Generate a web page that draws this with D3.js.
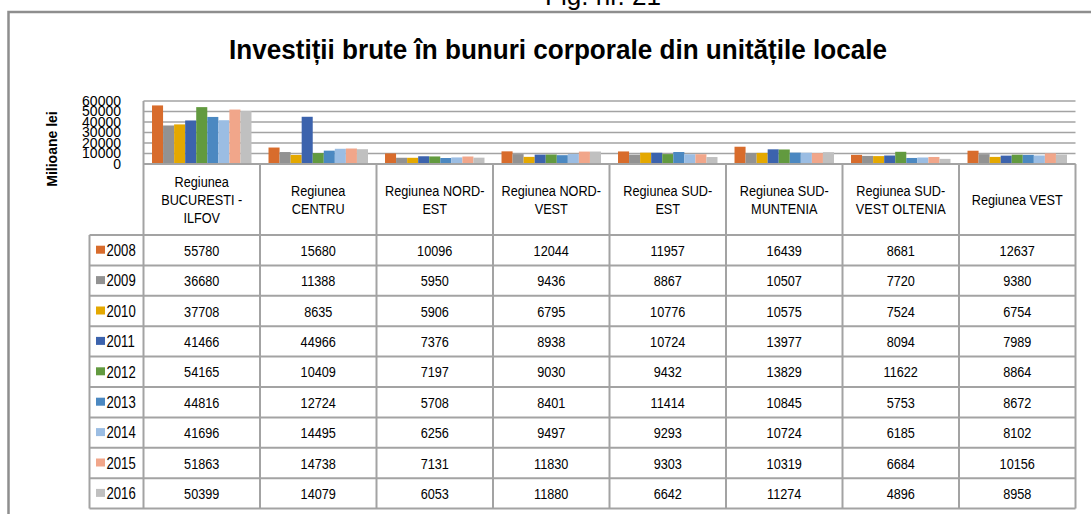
<!DOCTYPE html>
<html>
<head>
<meta charset="utf-8">
<script src="https://cdn.jsdelivr.net/npm/d3@7"></script>
<style>
  body { margin: 0; background: #fff; }
  svg { display: block; }
</style>
</head>
<body>
<div id="graph"></div>
<script>
// data
var regions = ["BUCURESTI - ILFOV", "CENTRU", "NORD-EST", "NORD-VEST", "SUD-EST", "SUD-MUNTENIA", "SUD-VEST OLTENIA", "VEST"];
var headLines = [
  ["Regiunea", "BUCURESTI -", "ILFOV"],
  ["Regiunea", "CENTRU"],
  ["Regiunea NORD-", "EST"],
  ["Regiunea NORD-", "VEST"],
  ["Regiunea SUD-", "EST"],
  ["Regiunea SUD-", "MUNTENIA"],
  ["Regiunea SUD-", "VEST OLTENIA"],
  ["Regiunea VEST"]
];
var years = ["2008", "2009", "2010", "2011", "2012", "2013", "2014", "2015", "2016"];
var y2008 = [55780, 15680, 10096, 12044, 11957, 16439, 8681, 12637];
var y2009 = [36680, 11388, 5950, 9436, 8867, 10507, 7720, 9380];
var y2010 = [37708, 8635, 5906, 6795, 10776, 10575, 7524, 6754];
var y2011 = [41466, 44966, 7376, 8938, 10724, 13977, 8094, 7989];
var y2012 = [54165, 10409, 7197, 9030, 9432, 13829, 11622, 8864];
var y2013 = [44816, 12724, 5708, 8401, 11414, 10845, 5753, 8672];
var y2014 = [41696, 14495, 6256, 9497, 9293, 10724, 6185, 8102];
var y2015 = [51863, 14738, 7131, 11830, 9303, 10319, 6684, 10156];
var y2016 = [50399, 14079, 6053, 11880, 6642, 11274, 4896, 8958];
var series = [y2008, y2009, y2010, y2011, y2012, y2013, y2014, y2015, y2016];
var yTicks = [0, 10000, 20000, 30000, 40000, 50000, 60000];
var colors = ["#d86c2c", "#929292", "#e4a800", "#3c63ad", "#629a3f", "#4b88c1", "#9bbde3", "#f1a68a", "#c0c0c0"];

var W = 1091, H = 514;
var plotL = 143.5, plotR = 1075.5, plotT = 101, plotB = 164;
var headB = 235, rowH = 30.4, legL = 89.5;
var font = "'Liberation Sans', Arial, sans-serif";
var squeeze = 0.82;   // the original text is condensed (Arial Narrow look)
var lineCol = "#a3a3a3";

var svg = d3.select("#graph")
  .append("svg")
    .attr("width", W)
    .attr("height", H);

// condensed text: a group moved to the anchor point, squeezed horizontally
function narrowText(parent, x, y, lines, size, anchor, lead) {
  var t = parent.append("g")
      .attr("transform", "translate(" + x + "," + y + ") scale(" + squeeze + ",1)")
    .append("text")
      .attr("text-anchor", anchor || "middle")
      .style("font-family", font)
      .style("font-size", size + "px")
      .attr("fill", "#000");
  t.selectAll("tspan")
    .data(lines)
    .enter()
    .append("tspan")
      .attr("x", 0)
      .attr("y", function(l, k) { return k * (lead || 0); })
      .text(function(l) { return l; });
  return t;
}

// outer frame (cropped at right and bottom)
svg.append("rect")
  .attr("x", 8.5).attr("y", 12)
  .attr("width", W + 20).attr("height", H + 20)
  .attr("fill", "none")
  .attr("stroke", "#8e8e8e")
  .attr("stroke-width", 2.5);

svg.append("text")
  .attr("x", 545).attr("y", 5)
  .attr("textLength", 116)
  .attr("lengthAdjust", "spacingAndGlyphs")
  .style("font-family", font)
  .style("font-size", "25px")
  .text("Fig. nr. 21");

svg.append("text")
  .attr("x", 229).attr("y", 58.5)
  .attr("textLength", 658)
  .attr("lengthAdjust", "spacingAndGlyphs")
  .style("font-family", font)
  .style("font-weight", "bold")
  .style("font-size", "27px")
  .text("Investiții brute în bunuri corporale din unitățile locale");

// scales
var x0 = d3.scaleBand().domain(regions).range([plotL, plotR]);
var x1 = d3.scaleBand().domain(years).range([0, x0.bandwidth()]).paddingOuter(0.77);
var y = d3.scaleLinear().domain([0, 60000]).range([plotB, plotT]);

// gridlines
svg.append("g")
  .selectAll("line")
  .data(yTicks)
  .enter()
  .append("line")
    .attr("x1", plotL).attr("x2", plotR)
    .attr("y1", function(d) { return y(d); })
    .attr("y2", function(d) { return y(d); })
    .attr("stroke", lineCol)
    .attr("stroke-width", 1.5);

// y axis labels
var yAxis = svg.append("g")
  .attr("transform", "translate(121,0)")
  .call(d3.axisLeft(y).tickValues(yTicks).tickSize(0).tickPadding(0).tickFormat(d3.format("d")));
yAxis.select(".domain").remove();
yAxis.selectAll("text")
  .style("font-family", font)
  .style("font-size", "14px")
  .attr("fill", "#000");

svg.append("text")
  .attr("transform", "translate(57,149) rotate(-90)")
  .attr("text-anchor", "middle")
  .style("font-family", font)
  .style("font-weight", "bold")
  .style("font-size", "14px")
  .text("Milioane lei");

// bars
svg.append("g")
  .selectAll("g")
  .data(series)
  .enter()
  .append("g")
    .attr("fill", function(d, i) { return colors[i]; })
  .selectAll("rect")
  .data(function(d, i) {
    return d.map(function(v, j) { return { year: years[i], region: regions[j], value: v }; });
  })
  .enter()
  .append("rect")
    .attr("x", function(d) { return x0(d.region) + x1(d.year); })
    .attr("y", function(d) { return y(d.value); })
    .attr("width", x1.bandwidth())
    .attr("height", function(d) { return plotB - y(d.value); });

// data table
var tbl = svg.append("g")
  .attr("stroke", lineCol)
  .attr("stroke-width", 2)
  .attr("fill", "none");
var tblB = headB + rowH * years.length;

tbl.append("line").attr("x1", plotL).attr("x2", plotR).attr("y1", plotB).attr("y2", plotB);
tbl.selectAll(".hr")
  .data(d3.range(years.length + 1))
  .enter()
  .append("line")
    .attr("x1", legL).attr("x2", plotR)
    .attr("y1", function(i) { return headB + i * rowH; })
    .attr("y2", function(i) { return headB + i * rowH; });
tbl.append("line").attr("x1", legL).attr("x2", legL).attr("y1", headB).attr("y2", tblB);
tbl.append("line").attr("x1", plotL).attr("x2", plotL).attr("y1", plotT).attr("y2", tblB);
tbl.selectAll(".vr")
  .data(regions)
  .enter()
  .append("line")
    .attr("x1", function(d) { return x0(d) + x0.bandwidth(); })
    .attr("x2", function(d) { return x0(d) + x0.bandwidth(); })
    .attr("y1", plotB).attr("y2", tblB);

// header labels
var head = svg.append("g");
headLines.forEach(function(lines, i) {
  var cx = x0(regions[i]) + x0.bandwidth() / 2;
  var top = (plotB + headB) / 2 - (lines.length - 1) * 17.8 / 2 + 5.3;
  narrowText(head, cx, top, lines, 15.5, "middle", 17.8);
});

// legend keys
var leg = svg.append("g");
years.forEach(function(yr, i) {
  var cy = headB + i * rowH + rowH / 2;
  leg.append("rect")
    .attr("x", 96).attr("y", cy - 4.5)
    .attr("width", 9).attr("height", 8)
    .attr("fill", colors[i]);
  narrowText(leg, 106.5, cy + 5.8, [yr], 16, "start");
});

// values
var vals = svg.append("g");
series.forEach(function(row, i) {
  var cy = headB + i * rowH + rowH / 2 + 5.5;
  row.forEach(function(v, j) {
    narrowText(vals, x0(regions[j]) + x0.bandwidth() / 2, cy, [v], 15.5, "middle");
  });
});
</script>
</body>
</html>
